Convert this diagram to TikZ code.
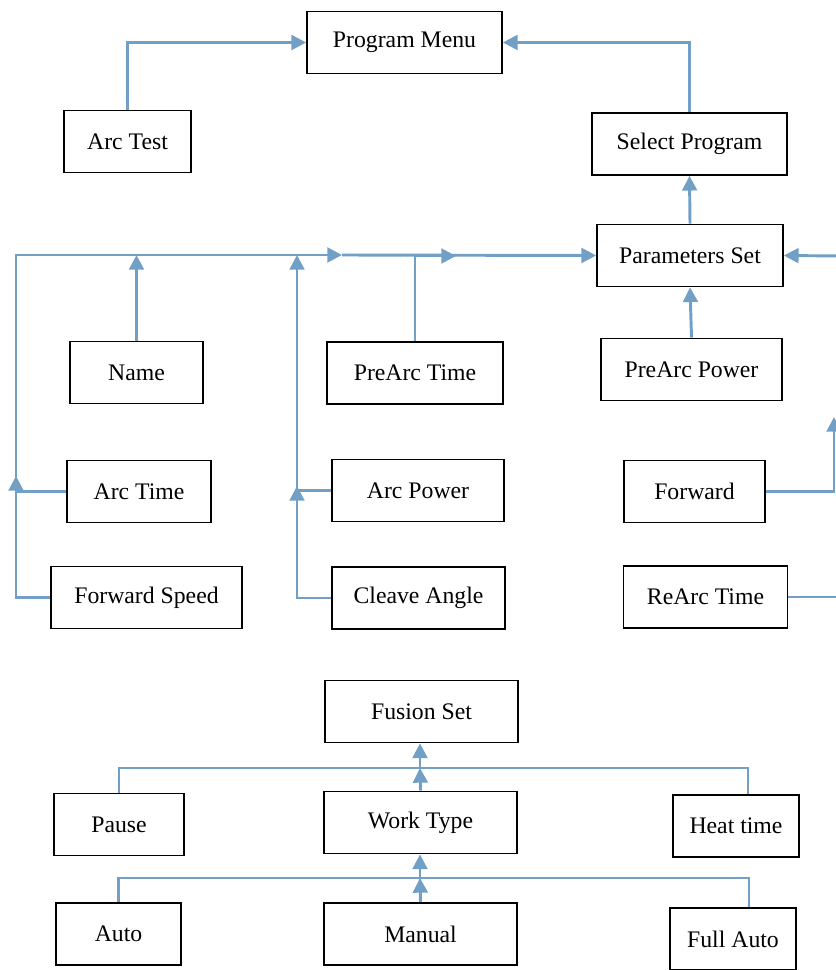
\documentclass[tikz,border=0pt]{standalone}
\usepackage{fontspec}
\setmainfont{Liberation Serif}
\usetikzlibrary{arrows.meta}
\definecolor{linkblue}{RGB}{114,159,198}
\tikzset{every picture/.style={line width=0.75pt}}
\tikzset{
box/.style={draw, line width=1.3pt, inner sep=0pt, minimum height=62*0.75pt, font=\fontsize{17.8}{21}\selectfont},
boxw/.style={minimum width=#1*0.75pt},
wire/.style={draw=linkblue, line width=2.2pt},
flow/.style={wire, -{Triangle[length=11pt,width=11pt]}}}

\begin{document}
\begin{tikzpicture}[x=0.75pt,y=0.75pt,yscale=-1,xscale=1]
\useasboundingbox (0,0) rectangle (835,970);

% Text Node
\node[box,boxw=195] (menu) at (404.5,42.5) {Program Menu};
\node[box,boxw=127] (arctest) at (127.5,141.5) {Arc Test};
\node[box,boxw=195] (selprog) at (689.5,144) {Select Program};
\node[box,boxw=186] (params) at (690,255.5) {Parameters Set};
\node[box,boxw=133] (name) at (136.5,372.5) {Name};
\node[box,boxw=176] (pretime) at (415,373) {PreArc Time};
\node[box,boxw=181] (prepower) at (691.5,369.5) {PreArc Power};
\node[box,boxw=144] (arctime) at (139,491.5) {Arc Time};
\node[box,boxw=172] (arcpower) at (418,490.5) {Arc Power};
\node[box,boxw=141] (forward) at (694.5,491.5) {Forward};
\node[box,boxw=191] (fwdspeed) at (146.5,597.5) {Forward Speed};
\node[box,boxw=173] (cleave) at (418.5,598) {Cleave Angle};
\node[box,boxw=164] (rearc) at (705.5,597) {ReArc Time};
% Text Node
\node[box,boxw=193] (fusion) at (421.5,711.5) {Fusion Set};
\node[box,boxw=130] (pause) at (119,824.5) {Pause};
\node[box,boxw=193] (worktype) at (420.5,822.5) {Work Type};
\node[box,boxw=126] (heat) at (736,826) {Heat time};
\node[box,boxw=125] (auto) at (118.5,934) {Auto};
\node[box,boxw=193] (manual) at (420.5,934) {Manual};
\node[box,boxw=126] (fullauto) at (733,939) {Full Auto};

% bus points
\coordinate (busl) at (16,255);
\coordinate (busa) at (342,255);
\coordinate (busb) at (456,256);
\coordinate (tipl) at (16,476);
\coordinate (tipm) at (297,486);
\coordinate (rp) at (840,256);
\coordinate (rf) at (834,417);
\coordinate (rr) at (840,597);
\coordinate (jf) at (420,768);
\coordinate (jw) at (420,878);

%Straight Lines
\draw[flow] (arctest.north) |- (menu.west);
\draw[flow] (selprog.north) |- (menu.east);
\draw[flow] (params.north) -- (selprog.south);
\draw[flow] (prepower.north) -- (params.south);
\draw[flow] (rp) -- (params.east);
\draw[flow] (forward.east) -| (rf);
\draw[wire] (rearc.east) -- (rr);

%Straight Lines
\draw[flow] (fwdspeed.west) -| (tipl);
\draw[flow] (arctime.west) -| (busl) -- (busa);
\draw[flow] (name.north) -- (name.north |- busl);
\draw[flow] (cleave.west) -| (tipm);
\draw[flow] (arcpower.west) -| (tipm |- busl);
\draw[flow] (pretime.north) |- (busb);
\draw[flow] (busa) -- (params.west);

%Straight Lines
\draw[wire] (pause.north) |- (jf) -| ([xshift=9pt]heat.north);
\draw[flow] (worktype.north) -- (jf);
\draw[flow] (jf) -- (jf |- fusion.south);
\draw[wire] (auto.north) |- (jw) -| ([xshift=12pt]fullauto.north);
\draw[flow] (manual.north) -- (jw);
\draw[flow] (jw) -- (jw |- worktype.south);

\end{tikzpicture}
\end{document}
